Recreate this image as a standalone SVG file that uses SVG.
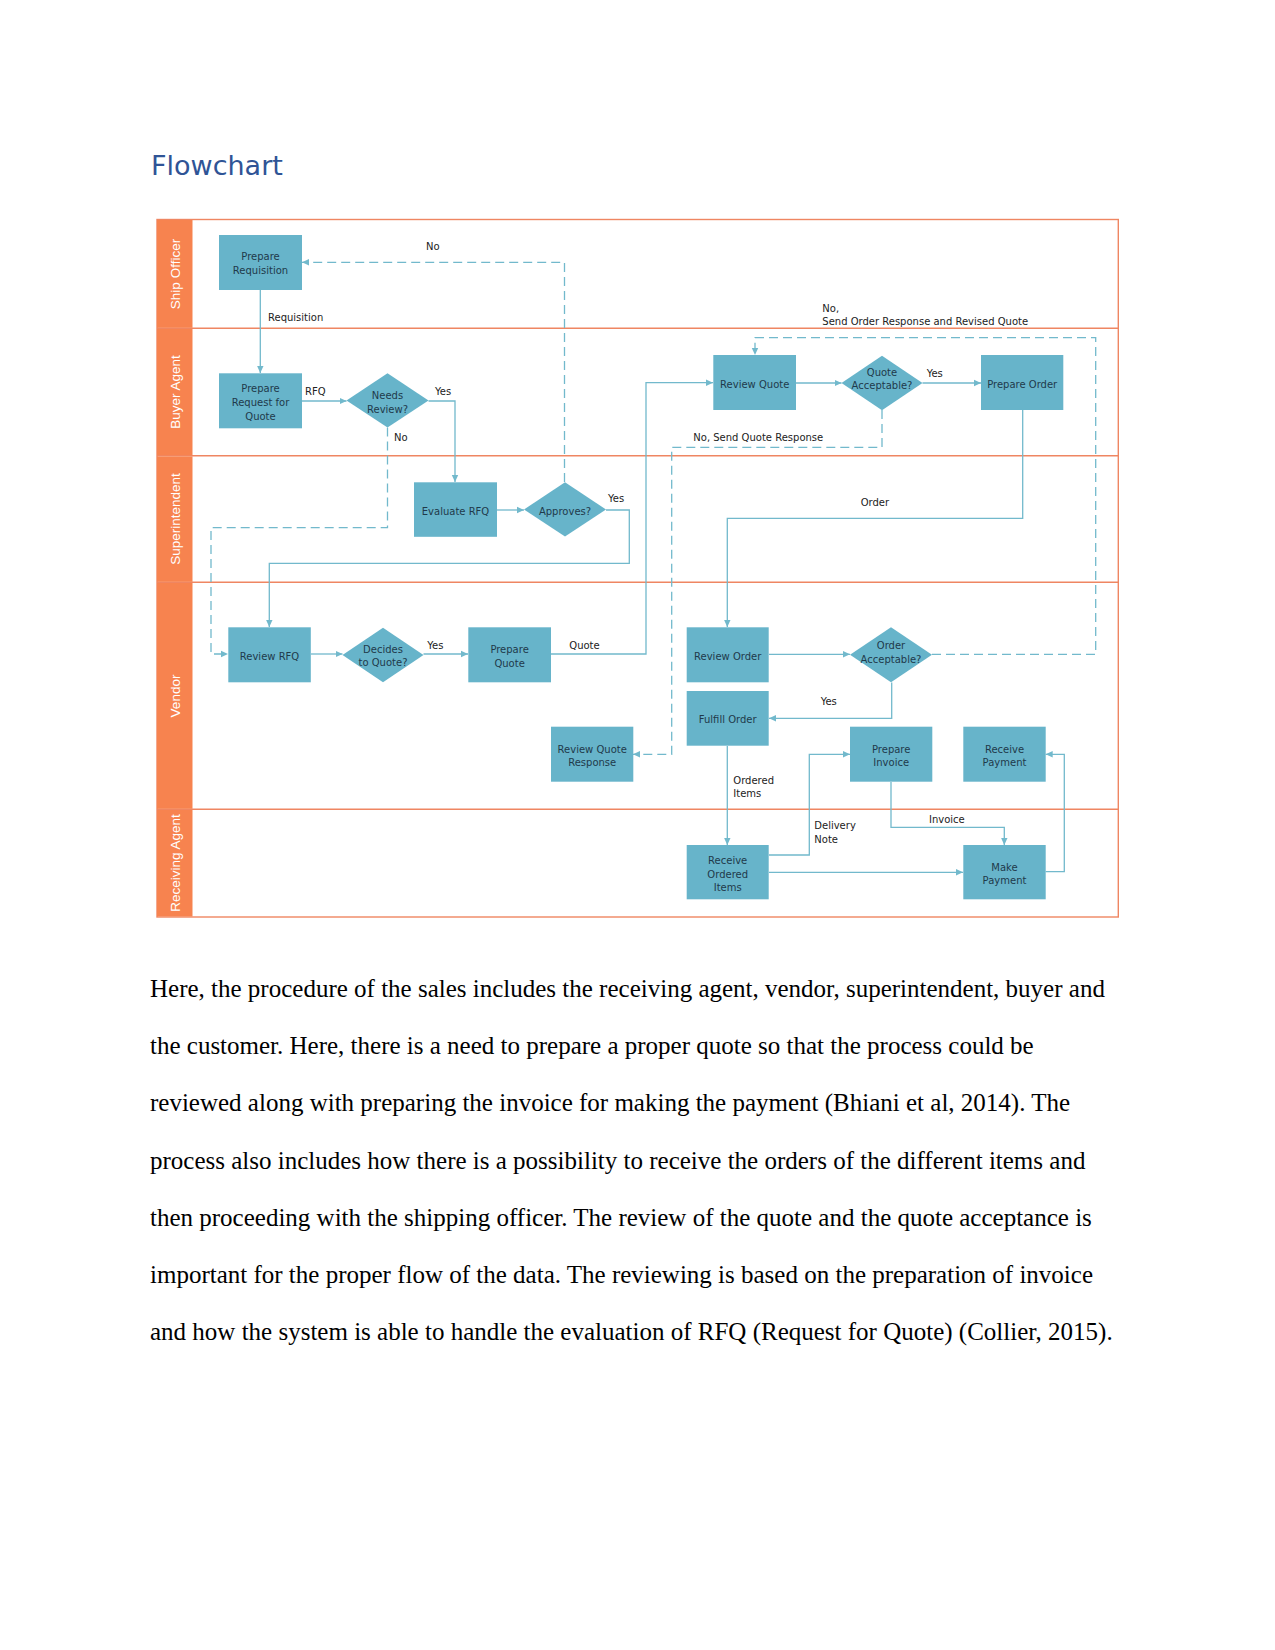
<svg xmlns="http://www.w3.org/2000/svg" width="1275" height="1650" viewBox="0 0 1275 1650">
<style>
.node rect, .node polygon { fill: #67b4ca; }
.nt { font-family: "DejaVu Sans", Verdana, sans-serif; font-size: 10px; fill: #1f3a4a; text-anchor: middle; dominant-baseline: central; }
.lbl { font-family: "DejaVu Sans", Verdana, sans-serif; font-size: 10px; fill: #222; dominant-baseline: central; }
.lane { font-family: "Liberation Sans", Arial, sans-serif; font-size: 13.5px; fill: #fff; text-anchor: middle; dominant-baseline: central; }
.hdr { fill: #f7834f; }
.sep { stroke: #ef8662; stroke-width: 1.4; fill: none; }
.c { fill: none; stroke: #72b9cc; stroke-width: 1.3; marker-end: url(#ah); }
.d { fill: none; stroke: #72b9cc; stroke-width: 1.3; stroke-dasharray: 9,5; marker-end: url(#ah); }
.body { font-family: "Liberation Serif", "Times New Roman", serif; font-size: 25px; fill: #000; }
</style>
<defs>
<marker id="ah" markerUnits="userSpaceOnUse" markerWidth="8" markerHeight="8" refX="7" refY="4" orient="auto">
<path d="M0,0.8 L7,4 L0,7.2 Z" fill="#72b9cc"/>
</marker>
</defs>
<rect width="1275" height="1650" fill="#fff"/>
<text x="151" y="175" font-family="DejaVu Sans, Verdana, sans-serif" font-size="27" fill="#2f5496">Flowchart</text>

<g id="swimlanes">
<rect class="sep" x="157" y="219.5" width="961.3" height="697.5"/>
<line class="sep" x1="157" y1="328.3" x2="1118.3" y2="328.3"/>
<line class="sep" x1="157" y1="455.7" x2="1118.3" y2="455.7"/>
<line class="sep" x1="157" y1="582.3" x2="1118.3" y2="582.3"/>
<line class="sep" x1="157" y1="809.3" x2="1118.3" y2="809.3"/>
<rect class="hdr" x="157" y="220" width="35.5" height="107.8"/>
<rect class="hdr" x="157" y="329" width="35.5" height="126.2"/>
<rect class="hdr" x="157" y="456.4" width="35.5" height="125.4"/>
<rect class="hdr" x="157" y="583" width="35.5" height="225.8"/>
<rect class="hdr" x="157" y="810" width="35.5" height="106.5"/>
<text class="lane" transform="translate(175,274) rotate(-90)">Ship Officer</text>
<text class="lane" transform="translate(175,392) rotate(-90)">Buyer Agent</text>
<text class="lane" transform="translate(175,519) rotate(-90)">Superintendent</text>
<text class="lane" transform="translate(175,696) rotate(-90)">Vendor</text>
<text class="lane" transform="translate(175,863) rotate(-90)">Receiving Agent</text>
</g>

<g id="connectors">
<path class="c" d="M260.3,290 V373"/>
<path class="c" d="M302,401 H346.5"/>
<path class="c" d="M428.5,401 H455 V482"/>
<path class="d" d="M387.5,427.5 V527.7 H211 V654 H228"/>
<path class="c" d="M497,510 H524"/>
<path class="d" d="M564.5,482 V262.3 H302"/>
<path class="c" d="M606,510 H629.3 V563.3 H269.3 V627"/>
<path class="c" d="M311,654 H342.5"/>
<path class="c" d="M423.5,654 H468"/>
<path class="c" d="M551,654 H646 V382.7 H713"/>
<path class="c" d="M796,383 H841.5"/>
<path class="c" d="M922.5,383 H981"/>
<path class="d" d="M882,410 V447.3 H671.7 V754.3 H633"/>
<path class="c" d="M1022.7,410 V518.3 H727.3 V627"/>
<path class="c" d="M769,654.3 H850"/>
<path class="d" d="M932,654.3 H1095.7 V337.7 H755 V355"/>
<path class="c" d="M891.7,682.5 V718.3 H769"/>
<path class="c" d="M727.3,746 V845"/>
<path class="c" d="M769,855 H809.3 V754.3 H850"/>
<path class="c" d="M891,782 V827.3 H1004.3 V845"/>
<path class="c" d="M769,872.3 H963"/>
<path class="c" d="M1045.7,871.7 H1064.3 V754.3 H1045.7"/>
<text class="lbl" x="268" y="317">Requisition</text>
<text class="lbl" x="305" y="391.7">RFQ</text>
<text class="lbl" x="435" y="391">Yes</text>
<text class="lbl" x="394" y="437">No</text>
<text class="lbl" x="426" y="246.7">No</text>
<text class="lbl" x="608" y="498.3">Yes</text>
<text class="lbl" x="427.3" y="645.7">Yes</text>
<text class="lbl" x="569.3" y="645.7">Quote</text>
<text class="lbl" x="926.7" y="373.3">Yes</text>
<text class="lbl" x="693.3" y="437.3">No, Send Quote Response</text>
<text class="lbl" x="860.7" y="502.3">Order</text>
<text class="lbl" x="822.3" y="308.3">No,</text>
<text class="lbl" x="822.3" y="321.7">Send Order Response and Revised Quote</text>
<text class="lbl" x="820.7" y="701.7">Yes</text>
<text class="lbl" x="733.3" y="780">Ordered</text>
<text class="lbl" x="733.3" y="793.3">Items</text>
<text class="lbl" x="814.3" y="825">Delivery</text>
<text class="lbl" x="814.3" y="839">Note</text>
<text class="lbl" x="929" y="819.3">Invoice</text>
</g>

<g id="n-prepare-requisition" class="node"><rect x="219" y="235" width="83" height="55"/><text class="nt" x="260.5" y="256.5">Prepare</text><text class="nt" x="260.5" y="270.5">Requisition</text></g>
<g id="n-prepare-rfq" class="node"><rect x="219" y="373.3" width="83" height="55"/><text class="nt" x="260.5" y="388.3">Prepare</text><text class="nt" x="260.5" y="402.3">Request for</text><text class="nt" x="260.5" y="416">Quote</text></g>
<g id="n-needs-review" class="node"><polygon points="387.5,373.3 428.5,400.5 387.5,427.5 346.5,400.5"/><text class="nt" x="387.5" y="395.7">Needs</text><text class="nt" x="387.5" y="409.3">Review?</text></g>
<g id="n-evaluate-rfq" class="node"><rect x="414" y="482.3" width="83" height="54.5"/><text class="nt" x="455.5" y="511">Evaluate RFQ</text></g>
<g id="n-approves" class="node"><polygon points="565,482.3 606,509.5 565,536.5 524,509.5"/><text class="nt" x="565" y="511">Approves?</text></g>
<g id="n-review-rfq" class="node"><rect x="228.3" y="627.3" width="82.5" height="55"/><text class="nt" x="269.5" y="656">Review RFQ</text></g>
<g id="n-decides" class="node"><polygon points="383,627.7 423.5,655 383,682.3 342.5,655"/><text class="nt" x="383" y="649">Decides</text><text class="nt" x="383" y="662.7">to Quote?</text></g>
<g id="n-prepare-quote" class="node"><rect x="468.3" y="627.3" width="82.7" height="55"/><text class="nt" x="509.6" y="649">Prepare</text><text class="nt" x="509.6" y="663">Quote</text></g>
<g id="n-review-quote-response" class="node"><rect x="551" y="726.7" width="82.3" height="55"/><text class="nt" x="592.2" y="749">Review Quote</text><text class="nt" x="592.2" y="762.7">Response</text></g>
<g id="n-review-quote" class="node"><rect x="713.3" y="355" width="82.7" height="55"/><text class="nt" x="754.7" y="384">Review Quote</text></g>
<g id="n-quote-acceptable" class="node"><polygon points="882,355.7 922.5,383 882,410.3 841.5,383"/><text class="nt" x="882" y="372.3">Quote</text><text class="nt" x="882" y="385.7">Acceptable?</text></g>
<g id="n-prepare-order" class="node"><rect x="981" y="355" width="82.3" height="55"/><text class="nt" x="1022.2" y="384">Prepare Order</text></g>
<g id="n-review-order" class="node"><rect x="686.7" y="627.3" width="82" height="55"/><text class="nt" x="727.7" y="656">Review Order</text></g>
<g id="n-order-acceptable" class="node"><polygon points="891,627.3 932,654.8 891,682.3 850,654.8"/><text class="nt" x="891" y="645">Order</text><text class="nt" x="891" y="659">Acceptable?</text></g>
<g id="n-fulfill-order" class="node"><rect x="686.7" y="691" width="82" height="54.7"/><text class="nt" x="727.7" y="719.3">Fulfill Order</text></g>
<g id="n-prepare-invoice" class="node"><rect x="850" y="726.7" width="82.3" height="55"/><text class="nt" x="891.2" y="749">Prepare</text><text class="nt" x="891.2" y="762.7">Invoice</text></g>
<g id="n-receive-payment" class="node"><rect x="963.3" y="726.7" width="82.4" height="55"/><text class="nt" x="1004.5" y="749">Receive</text><text class="nt" x="1004.5" y="762.7">Payment</text></g>
<g id="n-receive-ordered-items" class="node"><rect x="686.7" y="845" width="82" height="54.3"/><text class="nt" x="727.7" y="860">Receive</text><text class="nt" x="727.7" y="874">Ordered</text><text class="nt" x="727.7" y="887.7">Items</text></g>
<g id="n-make-payment" class="node"><rect x="963.3" y="845" width="82.4" height="54.3"/><text class="nt" x="1004.5" y="867.3">Make</text><text class="nt" x="1004.5" y="880.7">Payment</text></g>

<g id="body-text">
<text class="body" x="150" y="997">Here, the procedure of the sales includes the receiving agent, vendor, superintendent, buyer and</text>
<text class="body" x="150" y="1054">the customer. Here, there is a need to prepare a proper quote so that the process could be</text>
<text class="body" x="150" y="1111">reviewed along with preparing the invoice for making the payment (Bhiani et al, 2014). The</text>
<text class="body" x="150" y="1168.5">process also includes how there is a possibility to receive the orders of the different items and</text>
<text class="body" x="150" y="1226">then proceeding with the shipping officer. The review of the quote and the quote acceptance is</text>
<text class="body" x="150" y="1283">important for the proper flow of the data. The reviewing is based on the preparation of invoice</text>
<text class="body" x="150" y="1340">and how the system is able to handle the evaluation of RFQ (Request for Quote) (Collier, 2015).</text>
</g>
</svg>
